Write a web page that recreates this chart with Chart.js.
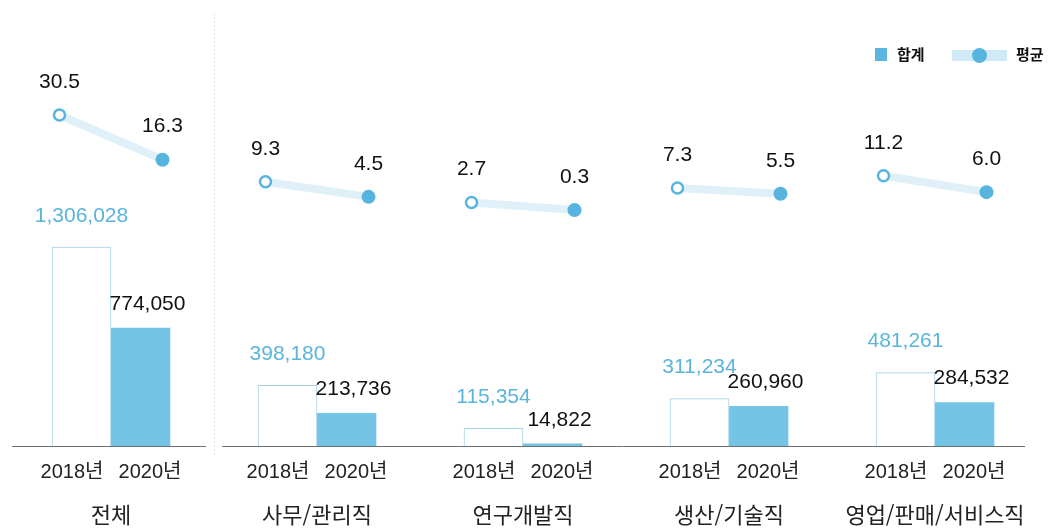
<!DOCTYPE html>
<html lang="ko">
<head>
<meta charset="utf-8">
<title>합계 및 평균</title>
<script src="https://cdn.jsdelivr.net/npm/chart.js@4.4.1/dist/chart.umd.min.js"></script>
<style>
  html, body { margin: 0; padding: 0; background: #fff; }
  #wrap { position: relative; width: 1053px; height: 530px; }
  #chart { position: absolute; left: 0; top: 0; }
  .lg { position: absolute; font-family: "Noto Sans CJK KR", sans-serif; font-size: 15px; font-weight: bold; color: #111; line-height: 18px; }
  .lg-box { position: absolute; left: 875px; top: 48px; width: 12px; height: 13px; background: #5ab6df; }
  .lg-line { position: absolute; left: 952px; top: 50px; width: 55px; height: 11px; background: #cfe9f6; }
  .lg-dot { position: absolute; left: 972px; top: 48px; width: 15px; height: 15px; border-radius: 50%; background: #56b4de; }
</style>
</head>
<body>
<div id="wrap">
  <canvas id="chart" width="1053" height="530"></canvas>
  <div class="lg-box"></div>
  <div class="lg" style="left:897px; top:45px;">합계</div>
  <div class="lg-line"></div>
  <div class="lg-dot"></div>
  <div class="lg" style="left:1016px; top:45px;">평균</div>
</div>
<script>
// 데이터
const categories = ['전체', '사무/관리직', '연구개발직', '생산/기술직', '영업/판매/서비스직'];
const years = ['2018년', '2020년'];
const total2018 = [1306028, 398180, 115354, 311234, 481261];
const total2020 = [774050, 213736, 14822, 260960, 284532];
const avg2018 = [30.5, 9.3, 2.7, 7.3, 11.2];
const avg2020 = [16.3, 4.5, 0.3, 5.5, 6.0];

const BLUE = '#74c4e5';
const BLUE_TXT = '#5ab4dc';
const DOT = '#56b4de';
const FONT = '"Liberation Sans", "Noto Sans CJK KR", sans-serif';

// 평균 선: 직군마다 2018 -> 2020 한 구간, null 로 끊기
const avgPoints = [];
categories.forEach((c, i) => {
  avgPoints.push({ x: i - 0.25, y: avg2018[i] });
  avgPoints.push({ x: i + 0.25, y: avg2020[i] });
  avgPoints.push({ x: i + 0.5, y: null });
});

const fmt = v => v.toLocaleString('en-US');

// 구분선 + 기준선
const framePlugin = {
  id: 'frame',
  beforeDatasetsDraw(chart) {
    const { ctx, chartArea } = chart;
    const step = (chartArea.right - chartArea.left) / categories.length;
    const sep = chartArea.left + step;
    const base = Math.round(chartArea.bottom) + 0.5;
    ctx.save();
    ctx.strokeStyle = '#e3e3e3';
    ctx.lineWidth = 1;
    ctx.setLineDash([2, 2]);
    ctx.beginPath();
    ctx.moveTo(Math.round(sep) + 0.5, 13);
    ctx.lineTo(Math.round(sep) + 0.5, 457);
    ctx.stroke();
    ctx.setLineDash([]);
    ctx.strokeStyle = '#6f6f6f';
    ctx.beginPath();
    ctx.moveTo(chartArea.left + 4, base);
    ctx.lineTo(sep - 8, base);
    ctx.moveTo(sep + 8, base);
    ctx.lineTo(chartArea.right - 13, base);
    ctx.stroke();
    ctx.restore();
  }
};

// 값 라벨, 연도/직군 라벨
const labelPlugin = {
  id: 'labels',
  afterDatasetsDraw(chart) {
    const { ctx, scales } = chart;
    ctx.save();
    ctx.textAlign = 'center';
    ctx.textBaseline = 'middle';
    ctx.font = '21px ' + FONT;

    const m18 = chart.getDatasetMeta(1);
    const m20 = chart.getDatasetMeta(2);
    m18.data.forEach((bar, i) => {
      ctx.fillStyle = BLUE_TXT;
      ctx.fillText(fmt(total2018[i]), bar.x, bar.y - 31);
    });
    m20.data.forEach((bar, i) => {
      ctx.fillStyle = '#111';
      ctx.fillText(fmt(total2020[i]), bar.x + 7, bar.y - 24);
    });

    const ml = chart.getDatasetMeta(0);
    ml.data.forEach((pt, k) => {
      if (k % 3 === 2) return;
      const v = avgPoints[k].y;
      ctx.fillStyle = '#111';
      ctx.fillText(v.toFixed(1), pt.x, pt.y - 33);
    });

    ctx.fillStyle = '#222';
    categories.forEach((c, i) => {
      const cx = scales.x.getPixelForValue(i);
      ctx.font = '20px ' + FONT;
      ctx.fillText(years[0], cx - 39, 472);
      ctx.fillText(years[1], cx + 39, 472);
      ctx.font = '22px "Noto Sans CJK KR", sans-serif';
      ctx.fillText(c, cx, 515);
    });
    ctx.restore();
  }
};

new Chart(document.getElementById('chart'), {
  type: 'bar',
  data: {
    labels: categories,
    datasets: [
      {
        type: 'line',
        label: '평균',
        data: avgPoints,
        xAxisID: 'xl',
        yAxisID: 'y2',
        order: 0,
        borderColor: '#dff0f9',
        borderWidth: 8,
        spanGaps: false,
        pointRadius: c => [5.5, 7, 0][c.dataIndex % 3],
        pointBorderWidth: c => (c.dataIndex % 3 === 0 ? 2.5 : 0),
        pointBorderColor: DOT,
        pointBackgroundColor: c => (c.dataIndex % 3 === 0 ? '#fff' : DOT)
      },
      {
        label: years[0],
        data: total2018,
        order: 1,
        backgroundColor: '#fff',
        borderColor: '#a2d2e7',
        borderWidth: 1,
        barThickness: 59
      },
      {
        label: years[1],
        data: total2020,
        order: 1,
        backgroundColor: BLUE,
        borderWidth: 0,
        barThickness: 59
      }
    ]
  },
  options: {
    responsive: false,
    animation: false,
    layout: { padding: { left: 3, right: 15, top: 40, bottom: 84 } },
    plugins: {
      legend: { display: false },
      tooltip: { enabled: false }
    },
    scales: {
      x: { type: 'category', display: false, offset: true },
      xl: { type: 'linear', display: false, offset: false, min: -0.5, max: 4.5 },
      y: { display: false, min: 0, max: 2665000 },
      y2: { display: false, min: -74.6, max: 54.3 }
    }
  },
  plugins: [framePlugin, labelPlugin]
});
</script>
</body>
</html>
